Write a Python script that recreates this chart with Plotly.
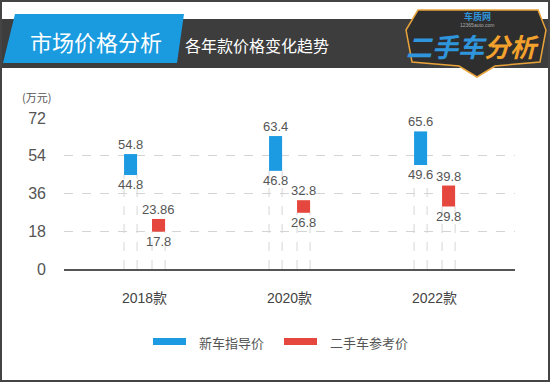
import plotly.graph_objects as go

# ---------------- data ----------------
categories = ["2018款", "2020款", "2022款"]
new_low = [44.8, 46.8, 49.6]
new_high = [54.8, 63.4, 65.6]
used_low = [17.8, 26.8, 29.8]
used_high = [23.86, 32.8, 39.8]
series_names = ["新车指导价", "二手车参考价"]
y_ticks = [0, 18, 36, 54, 72]
unit_label = "(万元)"
title_main = "市场价格分析"
title_sub = "各年款价格变化趋势"

# ---------------- style ----------------
W, H = 550, 382
L, R, T, B = 64, 35, 118, 113
PW, PH = W - L - R, H - T - B
BLUE = "#1d9be2"
RED = "#e5463d"
FONT = "Noto Sans CJK SC, sans-serif"
NUMFONT = "Liberation Sans, Noto Sans CJK SC, sans-serif"
BAR_W = 0.09
OFFS = [-0.141, 0.052]


def px(x):
    return (x - L) / PW


def py(y):
    return (H - B - y) / PH


fig = go.Figure()
xs = list(range(len(categories)))
lows = [new_low, used_low]
highs = [new_high, used_high]
colors = [BLUE, RED]

shapes = []
annotations = []

for s in range(2):
    fig.add_trace(go.Bar(
        x=xs,
        y=[h - l for h, l in zip(highs[s], lows[s])],
        base=lows[s],
        offset=OFFS[s],
        width=BAR_W,
        marker=dict(color=colors[s], line=dict(width=0)),
        name=series_names[s],
        showlegend=False,
        hoverinfo="skip",
    ))
    for i in xs:
        for edge in (OFFS[s], OFFS[s] + BAR_W):
            shapes.append(dict(type="line", xref="x", yref="y",
                               x0=i + edge, x1=i + edge, y0=0, y1=lows[s][i],
                               line=dict(color="#d6d6d6", width=1, dash="dash"),
                               layer="below"))
        cx = i + OFFS[s] + BAR_W / 2
        annotations.append(dict(x=cx, y=highs[s][i], xref="x", yref="y",
                                text=f"{highs[s][i]:g}", showarrow=False,
                                xanchor="center", yanchor="bottom", yshift=0,
                                font=dict(family=NUMFONT, size=13, color="#555")))
        annotations.append(dict(x=cx, y=lows[s][i], xref="x", yref="y",
                                text=f"{lows[s][i]:g}", showarrow=False,
                                xanchor="center", yanchor="top", yshift=0,
                                font=dict(family=NUMFONT, size=13, color="#555")))


def pa(x, y, text, size, color, xanchor="center", family=FONT):
    return dict(x=px(x), y=py(y), xref="paper", yref="paper", text=text, showarrow=False,
                xanchor=xanchor, yanchor="middle",
                font=dict(family=family, size=size, color=color))


# ---- header ----
shapes.append(dict(type="rect", xref="paper", yref="paper",
                   x0=px(2), x1=px(548), y0=py(68), y1=py(19),
                   fillcolor="#3d3d3d", line=dict(width=0), layer="below"))
shapes.append(dict(type="path", xref="paper", yref="paper",
                   path=f"M {px(15)} {py(14)} L {px(184)} {py(14)} L {px(177)} {py(63)} L {px(3)} {py(63)} Z",
                   fillcolor="#1a9be0", line=dict(width=0), layer="below"))
# logo shield
shapes.append(dict(type="path", xref="paper", yref="paper",
                   path=(f"M {px(418)} {py(10)} L {px(538)} {py(10)} L {px(546)} {py(30)} "
                         f"L {px(540)} {py(62)} L {px(495)} {py(66)} L {px(477)} {py(77)} "
                         f"L {px(459)} {py(66)} L {px(412)} {py(62)} L {px(406)} {py(30)} Z"),
                   fillcolor="#2e2e2e", line=dict(color="#e8a33a", width=1.5), layer="below"))
annotations += [
    pa(96, 41, title_main, 22, "white"),
    pa(183, 45, title_sub, 16, "white", xanchor="left"),
    pa(477, 17, "<b>车质网</b>", 9, "#2f95dc"),
    pa(477, 25, "12365auto.com", 5, "#aaa", family="Liberation Sans"),
    pa(472, 45, "<b><i><span style='color:#2f95dc'>二手车</span><span style='color:#f2a12c'>分析</span></i></b>",
       26, "#2f95dc"),
    pa(53, 97, unit_label, 11, "#555", xanchor="right"),
]

# ---- manual legend ----
leg_x = [153, 284]
for s in range(2):
    shapes.append(dict(type="rect", xref="paper", yref="paper",
                       x0=px(leg_x[s]), x1=px(leg_x[s] + 33), y0=py(345), y1=py(338),
                       fillcolor=colors[s], line=dict(width=0)))
    annotations.append(pa(leg_x[s] + 44, 342, series_names[s], 13, "#555", xanchor="left"))

# outer border
shapes.append(dict(type="rect", xref="paper", yref="paper",
                   x0=px(1), x1=px(549), y0=py(381), y1=py(1),
                   line=dict(color="#444", width=2), fillcolor="rgba(0,0,0,0)"))

fig.update_layout(
    width=W, height=H, autosize=False,
    margin=dict(l=L, r=R, t=T, b=B, pad=0),
    paper_bgcolor="white", plot_bgcolor="white",
    barmode="overlay",
    shapes=shapes, annotations=annotations,
    showlegend=False,
    font=dict(family=FONT),
    xaxis=dict(range=[-0.555, 2.555], tickvals=xs, ticktext=categories,
               showgrid=False, zeroline=False, showline=True, linecolor="#555", linewidth=1.5,
               ticks="", ticklabelstandoff=15,
               tickfont=dict(family=NUMFONT, size=14, color="#444"), fixedrange=True),
    yaxis=dict(range=[0, 72], tickvals=y_ticks, showgrid=True, gridcolor="#d4d4d4",
               griddash="dash", gridwidth=1, zeroline=False, showline=False,
               ticks="", ticklabelstandoff=17,
               tickfont=dict(family=NUMFONT, size=16, color="#555"), fixedrange=True),
)

fig.write_html("out.html", config={"displayModeBar": False},
               post_script="document.body.style.margin='0';document.body.style.overflow='hidden';")
